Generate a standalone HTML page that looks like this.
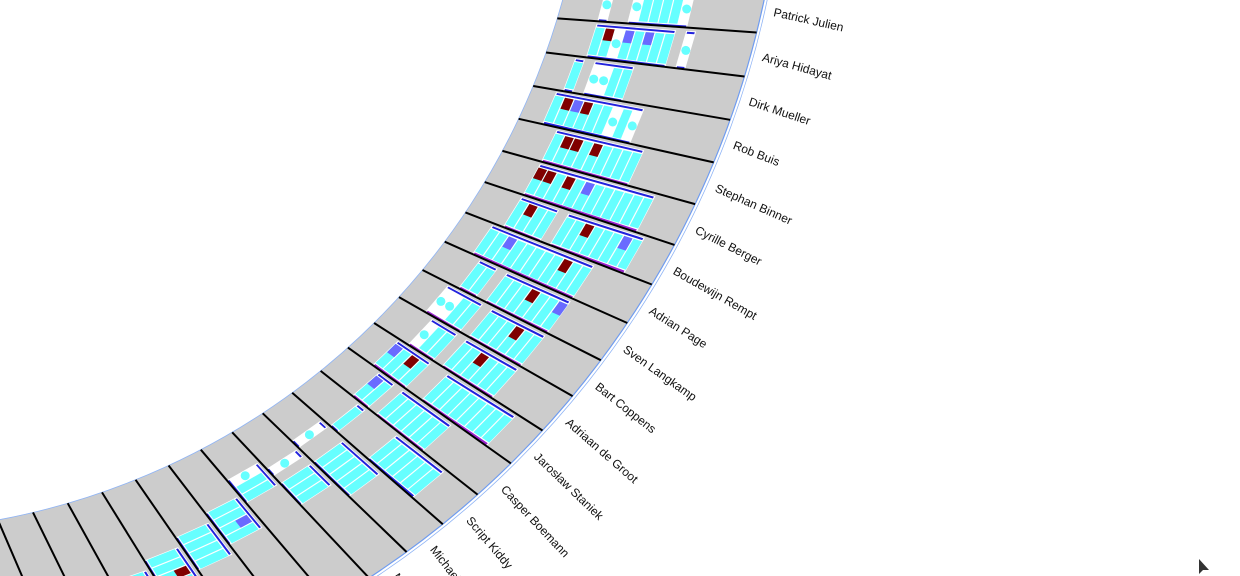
<!DOCTYPE html>
<html><head><meta charset="utf-8"><style>
html,body{margin:0;padding:0;background:#fff;width:1240px;height:576px;overflow:hidden}
svg{display:block;font-family:"Liberation Sans",sans-serif}
</style></head><body>
<svg id="chart" width="1240" height="576" viewBox="0 0 1240 576"></svg>
<script>
const authors = ["Patrick Julien","Ariya Hidayat","Dirk Mueller","Rob Buis","Stephan Binner","Cyrille Berger","Boudewijn Rempt","Adrian Page","Sven Langkamp","Bart Coppens","Adriaan de Groot","Jarosław Staniek","Casper Boemann","Script Kiddy","Michael Thaler","Martin Ellis"];
const bandStart = [0.2,0.2,0.15,0.12,0.2,0.2,0.2,0.15,0.2,0.15,0.2,0.15,0.2,0.25,0.2,0.25,0.2,0.3,0.35,0.4,0.45,0.5];
const cellCodes = ["o..occcco","crobcbcc.o","c.oocc","crbrccoco","crrcrcccc","rrcrcbcccccc","crcc.ccrcccbc","ccbcccccrcc","cc.cccrccb","oocc.cccrcc","occ.ccrccc","bcrc..cccccccc","bc.cccccc","c....cccccc","o..ccccc","o.ccc","occ","ccbc","cccc","ccrc","ccc","cc"];
const NS="http://www.w3.org/2000/svg";
const svg=document.getElementById('chart');
const cx=-134, cy=-190, R0=722, R1=918, A0=12.6, STEP=2.85, TWIST=2.75, CW=0.05;
function P(k,rf){const a=(A0+STEP*k+TWIST*(1-rf))*Math.PI/180;const r=R0+(R1-R0)*rf;return [cx+r*Math.cos(a),cy+r*Math.sin(a)];}
function mk(tag,attrs){const e=document.createElementNS(NS,tag);for(const k in attrs)e.setAttribute(k,attrs[k]);svg.appendChild(e);return e;}
function quad(k0,k1,r0,r1){const pts=[P(k0,r0),P(k1,r0),P(k1,r1),P(k0,r1)];return pts.map(p=>p[0].toFixed(1)+','+p[1].toFixed(1)).join(' ');}
let d='';
for(let i=0;i<=60;i++){const a=(-5+i*1.6)*Math.PI/180;d+=(i?'L':'M')+(cx+R1*Math.cos(a)).toFixed(1)+' '+(cy+R1*Math.sin(a)).toFixed(1);}
for(let i=60;i>=0;i--){const a=(-5+i*1.6)*Math.PI/180;d+='L'+(cx+R0*Math.cos(a)).toFixed(1)+' '+(cy+R0*Math.sin(a)).toFixed(1);}
const ring=mk('path',{d:d+'Z',fill:'#cccccc',stroke:'none'});


const oc=mk('circle',{cx:cx,cy:cy,r:R1,fill:'none',stroke:'#6f9cf0','stroke-width':1.2});


const oc2=mk('circle',{cx:cx,cy:cy,r:R1+3,fill:'none',stroke:'#8fb4f5','stroke-width':0.8});


const ic=mk('circle',{cx:cx,cy:cy,r:R0,fill:'none',stroke:'#8fb4f5','stroke-width':0.8});


const colors={c:'#66ffff',r:'#800000',b:'#6a6aff',y:'#ffd700'};
cellCodes.forEach((code,k)=>{
  const s=bandStart[k];
  let i=0;
  while(i<code.length){
    if(code[i]==='.'){i++;continue;}
    let j=i;while(j<code.length&&code[j]!=='.')j++;
    const band=mk('polygon',{points:quad(k-0.47,k+0.47,s+i*CW,s+j*CW),fill:'#fff'});
    
    
    const t1=mk('polygon',{points:quad(k-0.45,k-0.40,s+i*CW+0.006,s+j*CW-0.006),fill:'#2222dd'});
    
    
    const t2=mk('polygon',{points:quad(k+0.40,k+0.45,s+i*CW+0.006,s+j*CW-0.006),fill:k>3&&k<13?'#9922cc':'#2222dd'});
    
    
    i=j;
  }
  for(let n=0;n<code.length;n++){
    const ch=code[n];if(ch==='.')continue;
    const a=s+n*CW+0.003,b=s+(n+1)*CW-0.003;
    if(ch==='o'){
      const p=P(k,(a+b)/2);
      const dot=mk('circle',{cx:p[0].toFixed(1),cy:p[1].toFixed(1),r:4.5,fill:'#66ffff'});
      
      
      continue;
    }
    const cell=mk('polygon',{points:quad(k-0.37,k+0.37,a,b),fill:'#66ffff'});
    
    
    if(ch!=='c'){
      const acc=mk('polygon',{points:quad(k-0.37,k-0.05,a,b),fill:colors[ch]});
      
      
    }
  }
});
for(let j=-6;j<=26;j++){
  const p0=P(j+0.5,0),p1=P(j+0.5,1);
  const ln=mk('line',{x1:p0[0].toFixed(1),y1:p0[1].toFixed(1),x2:p1[0].toFixed(1),y2:p1[1].toFixed(1),stroke:'#000','stroke-width':2});
  
  
}
authors.forEach((name,k)=>{
  const ang=A0+STEP*k;const a=ang*Math.PI/180;const r=R1+12;
  const x=cx+r*Math.cos(a),y=cy+r*Math.sin(a);
  const t=mk('text',{x:x.toFixed(1),y:y.toFixed(1),'font-size':12,fill:'#111','dominant-baseline':'middle',transform:`rotate(${ang.toFixed(2)} ${x.toFixed(1)} ${y.toFixed(1)})`});
  t.textContent=name;
  
  
});
const cur=mk('path',{d:'M1199 559 L1199 574 L1203 570 L1209 570 Z',fill:'#333'});


</script>
</body></html>
